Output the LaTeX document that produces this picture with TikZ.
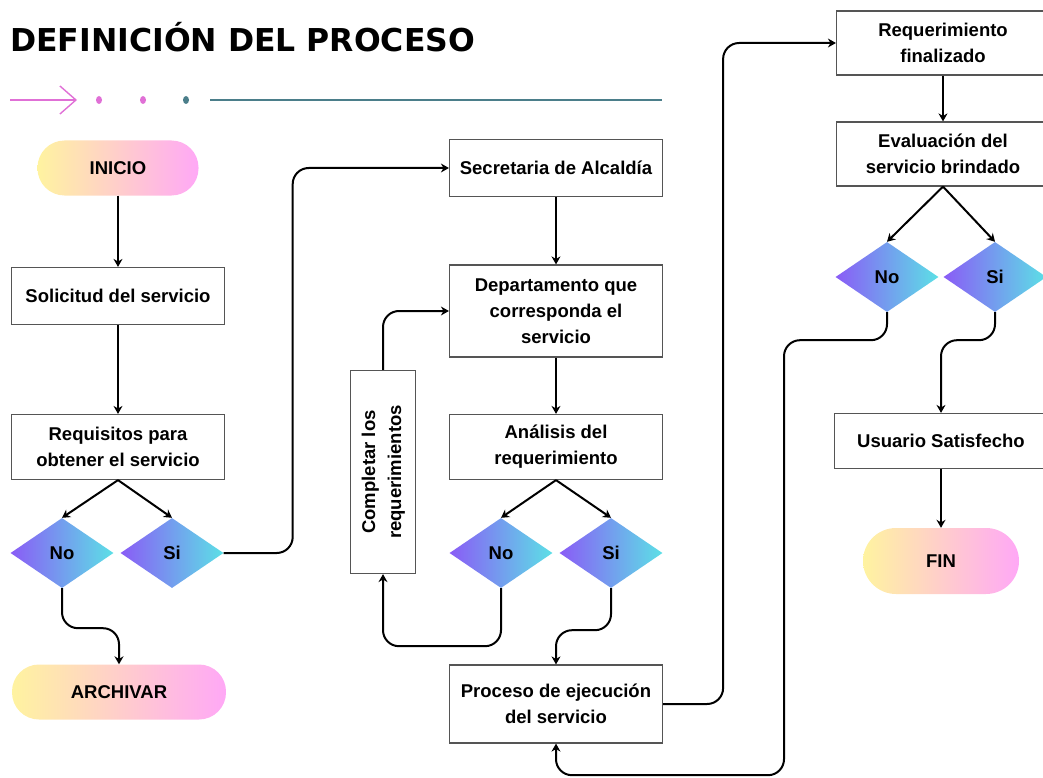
\documentclass[tikz,border=0pt]{standalone}
\usepackage{fontspec}
\setmainfont{Liberation Sans}
\newfontfamily\titlefont{DejaVu Sans}
\definecolor{boxgray}{RGB}{85, 85, 85}
\definecolor{pillyellow}{RGB}{255, 243, 160}
\definecolor{pillpink}{RGB}{255, 168, 246}
\definecolor{diapurple}{RGB}{138, 92, 246}
\definecolor{diacyan}{RGB}{92, 224, 230}
\definecolor{decopink}{RGB}{224, 112, 214}
\definecolor{decoteal}{RGB}{75, 126, 138}
\usetikzlibrary{shapes.geometric, arrows.meta}
\newcommand\bodyfont{\fontsize{18.5}{26}\selectfont\bfseries}

\tikzset{
  procbox/.style={draw=boxgray, line width=1.2pt, fill=white, minimum width=213, minimum height=57, align=center, inner sep=2pt, font=\bodyfont},
  pill/.style={rounded corners=27pt, left color=pillyellow, right color=pillpink, minimum width=161, minimum height=55, font=\bodyfont},
  decision/.style={diamond, aspect=1.47, minimum width=103, minimum height=70, inner sep=0pt, left color=diapurple, right color=diacyan, font=\bodyfont},
  flow/.style={line width=2pt, -{Stealth[length=8pt, width=9pt]}, rounded corners=16pt}
}

\begin{document}
\begin{tikzpicture}[x=1pt, y=-1pt]
  \useasboundingbox (0,0) rectangle (1043,778);

  % Title and decoration
  \node[anchor=base west, inner sep=0pt, font=\titlefont\fontsize{31.5}{31.5}\selectfont\bfseries] (title) at (10,52) {DEFINICIÓN DEL PROCESO};
  \draw[decopink, line width=1.4pt, -{Straight Barb[length=16pt, width=28pt]}] (10,100) -- (77,100);
  \fill[decopink] (99,100) ellipse (3pt and 4pt);
  \fill[decopink] (143,100) ellipse (3pt and 4pt);
  \fill[decoteal] (186,100) ellipse (3pt and 4pt);
  \draw[decoteal, line width=2.2pt] (210,100) -- (662,100);

  % Left column
  \node[pill] (inicio) at (118,168) {INICIO};
  \node[procbox] (solicitud) at (118,296) {Solicitud del servicio};
  \node[procbox, minimum height=65] (requisitos) at (118,447) {Requisitos para\\obtener el servicio};
  \node[decision] (no1) at (62,553) {No};
  \node[decision] (si1) at (172,553) {Si};
  \node[pill, minimum width=214] (archivar) at (119,692) {ARCHIVAR};

  % Middle column
  \node[procbox] (secretaria) at (556,168) {Secretaria de Alcaldía};
  \node[procbox, minimum height=92] (depto) at (556,311) {Departamento que\\corresponda el\\servicio};
  \node[procbox, minimum height=65] (analisis) at (556,447) {Análisis del\\requerimiento};
  \node[decision] (no2) at (501,553) {No};
  \node[decision] (si2) at (611,553) {Si};
  \node[procbox, minimum width=65, minimum height=203] (completar) at (383,472) {\rotatebox{90}{\begin{tabular}{@{}c@{}}Completar los\\requerimientos\end{tabular}}};
  \node[procbox, minimum height=78] (proceso) at (556,704) {Proceso de ejecución\\del servicio};

  % Right column
  \node[procbox, minimum height=64] (reqfin) at (943,43) {Requerimiento\\finalizado};
  \node[procbox, minimum height=64] (evaluacion) at (943,154) {Evaluación del\\servicio brindado};
  \node[decision] (no3) at (887,277) {No};
  \node[decision] (si3) at (995,277) {Si};
  \node[procbox, minimum height=55] (usuario) at (941,441) {Usuario Satisfecho};
  \node[pill, minimum width=156, minimum height=66, rounded corners=33pt] (fin) at (941,561) {FIN};

  % Connectors
  \draw[flow] (inicio) -- (solicitud);
  \draw[flow] (solicitud) -- (requisitos);
  \draw[flow] (requisitos.south) -- (no1.north);
  \draw[flow] (requisitos.south) -- (si1.north);
  \draw[flow] (no1.south) -- ++(0,40) -| (archivar.north);
  \draw[flow] (si1.east) -- ++(69,0) |- (secretaria.west);

  \draw[flow] (secretaria) -- (depto);
  \draw[flow] (depto) -- (analisis);
  \draw[flow] (analisis.south) -- (no2.north);
  \draw[flow] (analisis.south) -- (si2.north);
  \draw[flow] (no2.south) -- ++(0,58) -| (completar.south);
  \draw[flow] (completar.north) |- (depto.west);
  \draw[flow] (si2.south) -- ++(0,42) -| (proceso.north);
  \draw[flow] (proceso.east) -- ++(60,0) |- (reqfin.west);

  \draw[flow] (reqfin) -- (evaluacion);
  \draw[flow] (evaluacion.south) -- (no3.north);
  \draw[flow] (evaluacion.south) -- (si3.north);
  \draw[flow] (si3.south) -- ++(0,28) -| (usuario.north);
  \draw[flow] (usuario) -- (fin);
  \draw[flow] (no3.south) -- ++(0,28) -| ++(-103,435) -| (proceso.south);
\end{tikzpicture}
\end{document}
